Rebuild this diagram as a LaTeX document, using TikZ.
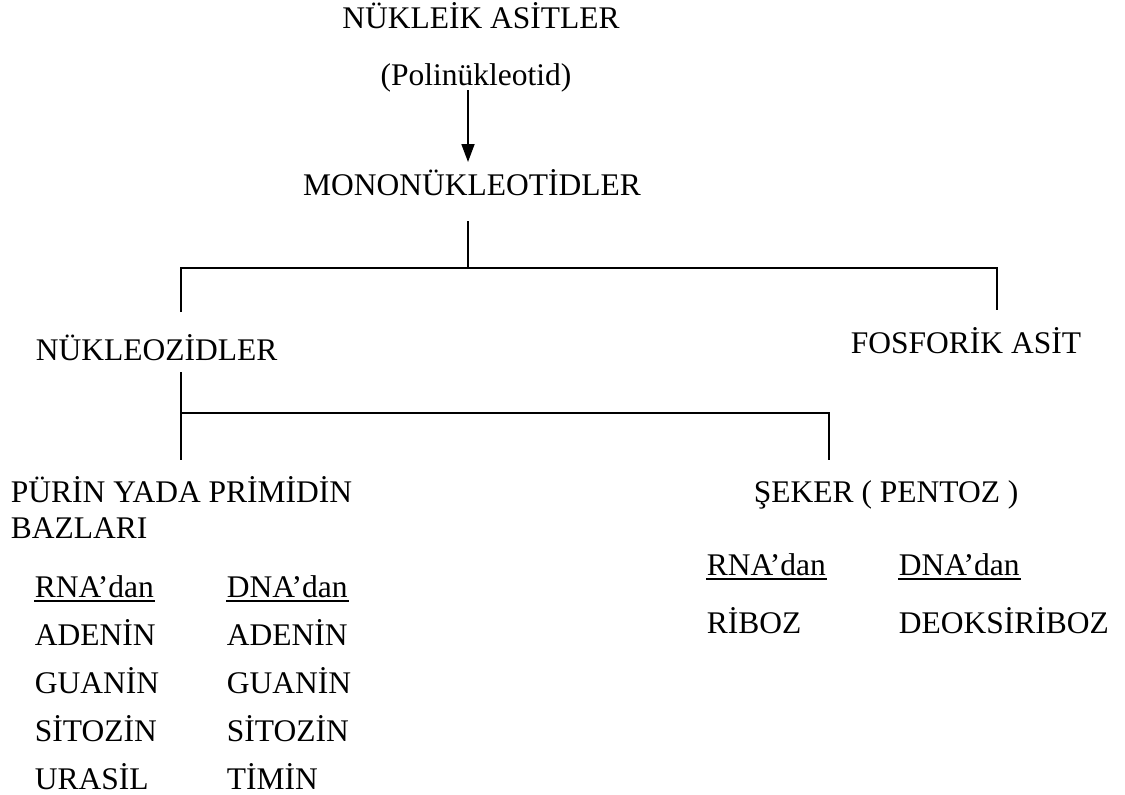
\documentclass[tikz,border=0pt]{standalone}
\usepackage{fontspec}
\setmainfont{Liberation Serif}
\usetikzlibrary{arrows.meta}

\tikzset{lbl/.style={inner sep=0pt,anchor=base west,font=\fontsize{31.5}{38}\selectfont},
  clbl/.style={lbl,anchor=base},
  uline/.style={line width=2pt}}

\begin{document}
\begin{tikzpicture}[x=1pt,y=-1pt,line width=1.8pt]
  \useasboundingbox (0,0) rectangle (1125,795);
  % titles
  \node[clbl] (top) at (481,28) {NÜKLEİK ASİTLER};
  \node[clbl] (poly) at (476,85) {(Polinükleotid)};
  \node[clbl] (mono) at (472,195) {MONONÜKLEOTİDLER};
  \node[lbl] (nukleo) at (35,360) {NÜKLEOZİDLER};
  \node[lbl] (fosfor) at (850,353) {FOSFORİK ASİT};
  \node[lbl] (purin) at (10,502) {PÜRİN YADA PRİMİDİN};
  \node[lbl] (baz) at (10,538) {BAZLARI};
  \node[lbl] (seker) at (753,502) {ŞEKER ( PENTOZ )};
  % bases
  \node[lbl] (rnaL) at (34,597) {RNA’dan};
  \node[lbl] (dnaL) at (226,597) {DNA’dan};
  \node[lbl] (adeR) at (34,645) {ADENİN};
  \node[lbl] (adeD) at (226,645) {ADENİN};
  \node[lbl] (guaR) at (34,693) {GUANİN};
  \node[lbl] (guaD) at (226,693) {GUANİN};
  \node[lbl] (sitR) at (34,741) {SİTOZİN};
  \node[lbl] (sitD) at (226,741) {SİTOZİN};
  \node[lbl] (ura) at (34,789) {URASİL};
  \node[lbl] (tim) at (226,789) {TİMİN};
  % sugars
  \node[lbl] (rnaR) at (706,575) {RNA’dan};
  \node[lbl] (dnaR) at (898,575) {DNA’dan};
  \node[lbl] (ribo) at (706,633) {RİBOZ};
  \node[lbl] (deoks) at (898,633) {DEOKSİRİBOZ};
  % underlines
  \foreach \n in {rnaL,dnaL,rnaR,dnaR}
    \draw[uline] ([yshift=-4pt]\n.base west) -- ([yshift=-4pt]\n.base east);
  % tree
  \coordinate (polyB) at (468,90);
  \coordinate (monoT) at (468,162);
  \coordinate (monoB) at (468,221);
  \coordinate (j1) at (468,268);
  \coordinate (jL) at (181,268);
  \coordinate (jR) at (997,268);
  \coordinate (nukT) at (181,312);
  \coordinate (fosT) at (997,310);
  \coordinate (nukB) at (181,372);
  \coordinate (j2) at (181,413);
  \coordinate (purT) at (181,460);
  \coordinate (j3) at (829,413);
  \coordinate (sekT) at (829,460);
  \draw[-{Triangle[length=18pt,width=13pt]}] (polyB) -- (monoT);
  \draw (monoB) -- (j1);
  \draw (nukT) -- (jL) -- (jR) -- (fosT);
  \draw (nukB) -- (purT);
  \draw (j2) -- (j3) -- (sekT);
\end{tikzpicture}
\end{document}
